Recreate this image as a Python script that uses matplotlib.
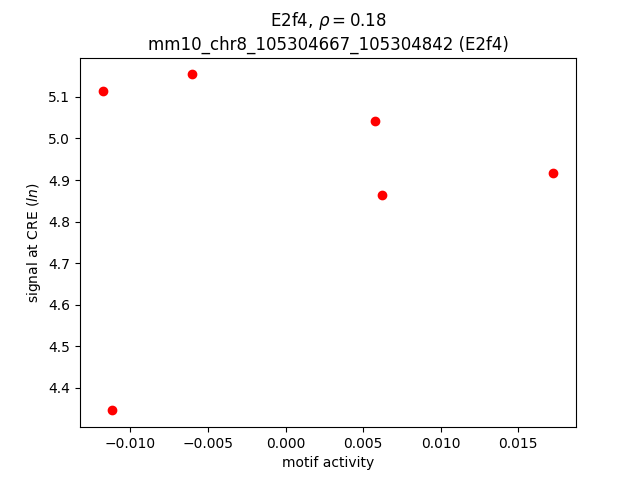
import matplotlib
matplotlib.use('Agg')
import matplotlib.pyplot as plt

# motif activity vs signal at CRE
motif_activity = [-0.0118, -0.00605, 0.00577, 0.00622, 0.01727, -0.01122]
signal = [5.115, 5.154, 5.043, 4.863, 4.918, 4.346]

plt.figure(figsize=(6.4, 4.8))
plt.scatter(motif_activity, signal, c='red')
plt.title('E2f4, $\\rho = 0.18$\nmm10_chr8_105304667_105304842 (E2f4)')
plt.xlabel('motif activity')
plt.ylabel('signal at CRE ($ln$)')
plt.savefig('out.png', dpi=100)
